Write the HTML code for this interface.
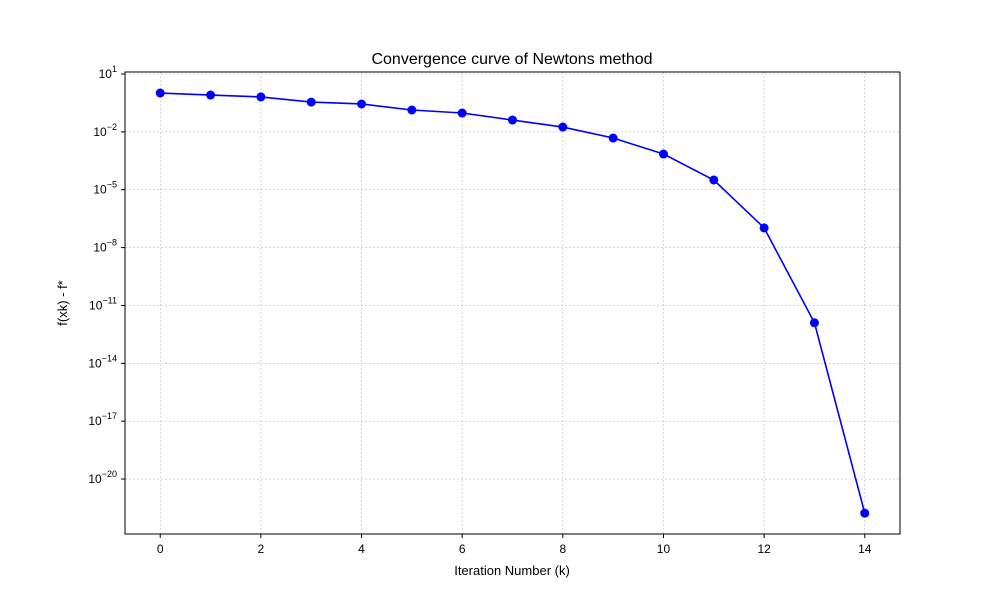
<!DOCTYPE html>
<html><head><meta charset="utf-8"><style>
body{margin:0;background:#fff;}
svg{display:block;font-family:"Liberation Sans","DejaVu Sans",sans-serif;}
</style></head><body>
<svg id="chart" width="1000" height="600">
<rect width="1000" height="600" fill="#fff"/>
<g id="grid"></g>
<g id="axes"></g>
<g id="series"></g>
<rect x="125" y="72" width="775" height="462" fill="none" stroke="#000" stroke-width="1"/>
<text x="512" y="64" text-anchor="middle" font-size="16">Convergence curve of Newtons method</text>
<text x="512" y="575" text-anchor="middle" font-size="13">Iteration Number (k)</text>
<text transform="translate(67,303) rotate(-90)" text-anchor="middle" font-size="13">f(xk) - f*</text>
</svg>
<script>
const iterations=[0,1,2,3,4,5,6,7,8,9,10,11,12,13,14];
const gaps=[1.03,0.81,0.65,0.35,0.28,0.136,0.095,0.041,0.0178,0.0048,7.1e-4,3.2e-5,1.05e-7,1.26e-12,1.7e-22];
const xTicks=[0,2,4,6,8,10,12,14];
const yTickExps=[1,-2,-5,-8,-11,-14,-17,-20];
const NS="http://www.w3.org/2000/svg";
const L=125,R=900,T=72,B=534;
const X0=-0.7,X1=14.7,LY0=-22.85,LY1=1.104;
function xs(v){return L+(v-X0)/(X1-X0)*(R-L);}
function ys(v){return B-(Math.log10(v)-LY0)/(LY1-LY0)*(B-T);}
function mk(tag,attrs,parent){const e=document.createElementNS(NS,tag);for(const k in attrs)e.setAttribute(k,attrs[k]);parent.appendChild(e);return e;}
const grid=document.getElementById('grid'),axes=document.getElementById('axes'),ser=document.getElementById('series');
xTicks.forEach(t=>{const x=xs(t);
 const g=mk('line',{x1:x,x2:x,y1:T,y2:B,stroke:'#b0b0b0','stroke-width':0.5,'stroke-dasharray':'2,2'},grid);
 
 
 mk('line',{x1:x,x2:x,y1:B,y2:B+4,stroke:'#000'},axes);
 const tx=mk('text',{x:x,y:B+19,'text-anchor':'middle','font-size':12},axes);tx.textContent=t;
 
 
});
yTickExps.forEach(e=>{const y=ys(Math.pow(10,e));
 const g=mk('line',{x1:L,x2:R,y1:y,y2:y,stroke:'#b0b0b0','stroke-width':0.5,'stroke-dasharray':'2,2'},grid);
 
 
 mk('line',{x1:L-4,x2:L,y1:y,y2:y,stroke:'#000'},axes);
 const tx=mk('text',{x:L-8,y:y+4,'text-anchor':'end','font-size':12},axes);
 
 
 const a=mk('tspan',{},tx);a.textContent='10';
 const b=mk('tspan',{dy:-6,'font-size':9},tx);b.textContent=(e<0?'\u2212':'')+Math.abs(e);
});
const pts=iterations.map((k,i)=>xs(k)+','+ys(gaps[i])).join(' ');
const line=mk('polyline',{points:pts,fill:'none',stroke:'#0000ff','stroke-width':1.6},ser);


iterations.forEach((k,i)=>{
 const c=mk('circle',{cx:xs(k),cy:ys(gaps[i]),r:4.5,fill:'#0000ff'},ser);
 
 
});
</script>
</body></html>
